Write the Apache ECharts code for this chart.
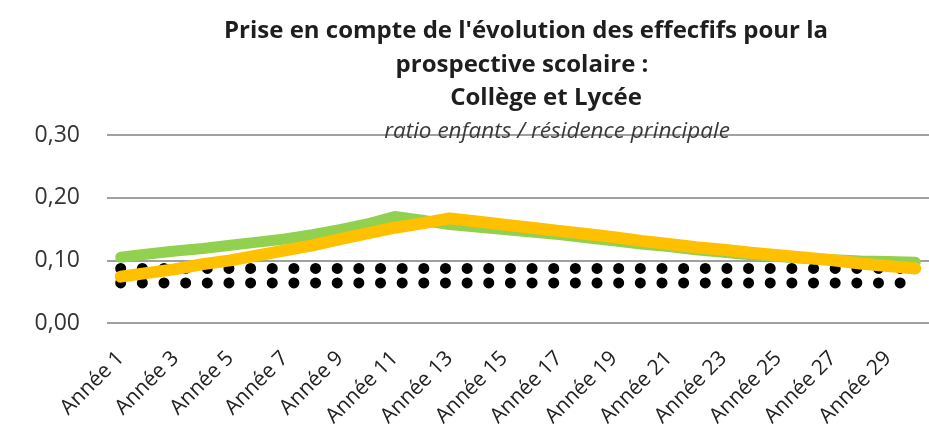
<!DOCTYPE html>
<html>
<head>
<meta charset="utf-8">
<script src="https://cdn.jsdelivr.net/npm/echarts@6/dist/echarts.min.js"></script>
<style>
  html, body { margin: 0; padding: 0; background: #fff; }
  #chart { width: 929px; height: 430px; }
</style>
</head>
<body>
<div id="chart"></div>
<script>
const years = [];
for (let i = 1; i <= 30; i++) years.push('Année ' + i);

// ratio enfants / résidence principale
const green = [0.105, 0.110, 0.115, 0.119, 0.124, 0.129, 0.134, 0.141, 0.149, 0.158,
  0.170, 0.164, 0.157, 0.153, 0.149, 0.145, 0.141, 0.136, 0.131, 0.126,
  0.122, 0.117, 0.113, 0.109, 0.106, 0.103, 0.101, 0.099, 0.098, 0.097];
const yellow = [0.074, 0.080, 0.086, 0.094, 0.100, 0.108, 0.116, 0.124, 0.134, 0.143,
  0.152, 0.159, 0.167, 0.162, 0.157, 0.152, 0.147, 0.142, 0.137, 0.131,
  0.126, 0.121, 0.117, 0.112, 0.108, 0.104, 0.100, 0.095, 0.091, 0.087];
const dotsHigh = [0.087, 0.087, 0.087, 0.087, 0.087, 0.087, 0.087, 0.087, 0.087, 0.087,
  0.087, 0.087, 0.087, 0.087, 0.087, 0.087, 0.087, 0.087, 0.087, 0.087,
  0.087, 0.087, 0.087, 0.087, 0.087, 0.087, 0.087, 0.087, 0.087, 0.087];
const dotsLow = [0.064, 0.064, 0.064, 0.064, 0.064, 0.064, 0.064, 0.064, 0.064, 0.064,
  0.064, 0.064, 0.064, 0.064, 0.064, 0.064, 0.064, 0.064, 0.064, 0.064,
  0.064, 0.064, 0.064, 0.064, 0.064, 0.064, 0.064, 0.064, 0.064, 0.064];

const font = '"Open Sans", Lato, sans-serif';

const dotted = (data) => ({
  type: 'line',
  data: data,
  showSymbol: false,
  silent: true,
  lineStyle: { color: '#000', width: 11, type: [0.001, 21.65], cap: 'round' },
});

const chart = echarts.init(document.getElementById('chart'));
chart.setOption({
  animation: false,
  backgroundColor: '#fff',
  title: [
    {
      text: "Prise en compte de l'évolution des effecfifs pour la",
      left: 521, top: 14, textAlign: 'center',
      textStyle: { fontFamily: font, fontSize: 24, fontWeight: 'bold', color: '#1e1e1e' },
    },
    {
      text: 'prospective scolaire :',
      left: 517, top: 48, textAlign: 'center',
      textStyle: { fontFamily: font, fontSize: 24, fontWeight: 'bold', color: '#1e1e1e' },
    },
    {
      text: 'Collège et Lycée',
      left: 541, top: 81, textAlign: 'center',
      textStyle: { fontFamily: font, fontSize: 24, fontWeight: 'bold', color: '#1e1e1e' },
    },
    {
      text: 'ratio enfants / résidence principale',
      left: 552, top: 115, textAlign: 'center',
      textStyle: { fontFamily: font, fontSize: 22.5, fontStyle: 'italic', fontWeight: 'normal', color: '#3a3a3a' },
    },
  ],
  grid: { left: 107, right: -3, top: 135, bottom: 107 },
  xAxis: {
    type: 'category',
    data: years,
    boundaryGap: true,
    axisLine: { show: false },
    axisTick: { show: false },
    axisLabel: {
      interval: 1,
      rotate: 45,
      margin: 32,
      color: '#222',
      fontFamily: font,
      fontSize: 21,
    },
  },
  yAxis: {
    type: 'value',
    min: 0,
    max: 0.3,
    interval: 0.1,
    axisLine: { show: false },
    axisTick: { show: false },
    splitLine: { lineStyle: { color: '#a0a0a0', width: 2 } },
    axisLabel: {
      margin: 27,
      color: '#333',
      fontFamily: font,
      fontSize: 23,
      formatter: (v) => v.toFixed(2).replace('.', ','),
    },
  },
  series: [
    dotted(dotsHigh),
    dotted(dotsLow),
    {
      type: 'line',
      data: green,
      showSymbol: false,
      lineStyle: { color: '#92D050', width: 11, cap: 'round', join: 'round' },
    },
    {
      type: 'line',
      data: yellow,
      showSymbol: false,
      lineStyle: { color: '#FFC000', width: 12, cap: 'round', join: 'round' },
    },
  ],
});
</script>
</body>
</html>
